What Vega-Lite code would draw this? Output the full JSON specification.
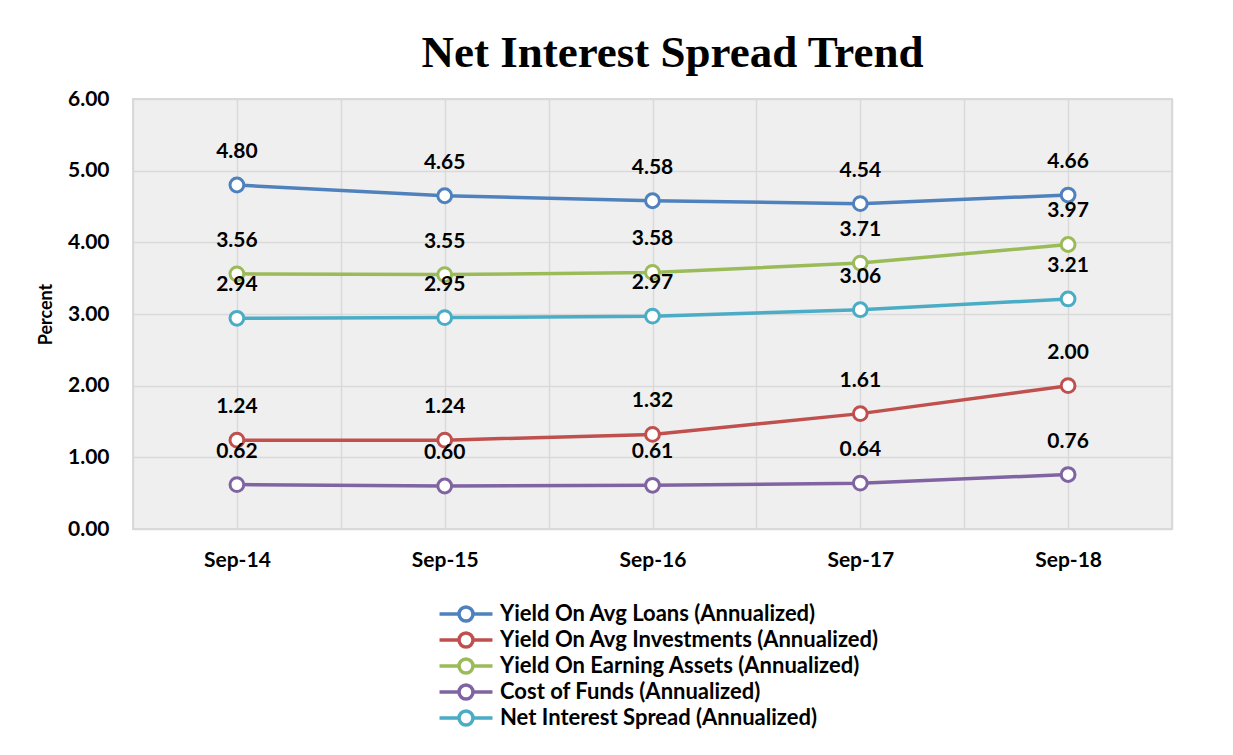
{
  "$schema": "https://vega.github.io/schema/vega-lite/v6.json",
  "width": 1039,
  "height": 430,
  "autosize": {"type": "none"},
  "padding": {"left": 133, "top": 99, "right": 61, "bottom": 226},
  "background": "white",
  "config": {
    "view": {"fill": "#efefef", "stroke": "#d9d9d9", "strokeWidth": 2},
    "font": "Lato",
    "legend": {
      "orient": "none",
      "legendX": 322,
      "legendY": 504,
      "direction": "vertical",
      "symbolType": "M-3.31,0H-0.875M0.875,0H3.31M-0.875,0A0.875,0.875,0,1,1,0.875,0A0.875,0.875,0,1,1,-0.875,0",
      "symbolSize": 256,
      "symbolStrokeWidth": 3.5,
      "symbolFillColor": "white",
      "labelFont": "Lato",
      "labelFontSize": 22,
      "labelFontWeight": "bold",
      "labelColor": "#000000",
      "labelOffset": 23,
      "rowPadding": -2,
      "labelLimit": 700
    }
  },
  "title": {
    "text": "Net Interest Spread Trend",
    "font": "Liberation Serif",
    "fontSize": 45,
    "fontWeight": "bold",
    "color": "#000000",
    "anchor": "middle",
    "dx": 20,
    "offset": 12
  },
  "data": {
    "values": [
      {"period": "Sep-14", "idx": 0, "series": "Yield On Avg Loans (Annualized)", "value": 4.80},
      {"period": "Sep-15", "idx": 1, "series": "Yield On Avg Loans (Annualized)", "value": 4.65},
      {"period": "Sep-16", "idx": 2, "series": "Yield On Avg Loans (Annualized)", "value": 4.58},
      {"period": "Sep-17", "idx": 3, "series": "Yield On Avg Loans (Annualized)", "value": 4.54},
      {"period": "Sep-18", "idx": 4, "series": "Yield On Avg Loans (Annualized)", "value": 4.66},
      {"period": "Sep-14", "idx": 0, "series": "Yield On Avg Investments (Annualized)", "value": 1.24},
      {"period": "Sep-15", "idx": 1, "series": "Yield On Avg Investments (Annualized)", "value": 1.24},
      {"period": "Sep-16", "idx": 2, "series": "Yield On Avg Investments (Annualized)", "value": 1.32},
      {"period": "Sep-17", "idx": 3, "series": "Yield On Avg Investments (Annualized)", "value": 1.61},
      {"period": "Sep-18", "idx": 4, "series": "Yield On Avg Investments (Annualized)", "value": 2.00},
      {"period": "Sep-14", "idx": 0, "series": "Yield On Earning Assets (Annualized)", "value": 3.56},
      {"period": "Sep-15", "idx": 1, "series": "Yield On Earning Assets (Annualized)", "value": 3.55},
      {"period": "Sep-16", "idx": 2, "series": "Yield On Earning Assets (Annualized)", "value": 3.58},
      {"period": "Sep-17", "idx": 3, "series": "Yield On Earning Assets (Annualized)", "value": 3.71},
      {"period": "Sep-18", "idx": 4, "series": "Yield On Earning Assets (Annualized)", "value": 3.97},
      {"period": "Sep-14", "idx": 0, "series": "Cost of Funds (Annualized)", "value": 0.62},
      {"period": "Sep-15", "idx": 1, "series": "Cost of Funds (Annualized)", "value": 0.60},
      {"period": "Sep-16", "idx": 2, "series": "Cost of Funds (Annualized)", "value": 0.61},
      {"period": "Sep-17", "idx": 3, "series": "Cost of Funds (Annualized)", "value": 0.64},
      {"period": "Sep-18", "idx": 4, "series": "Cost of Funds (Annualized)", "value": 0.76},
      {"period": "Sep-14", "idx": 0, "series": "Net Interest Spread (Annualized)", "value": 2.94},
      {"period": "Sep-15", "idx": 1, "series": "Net Interest Spread (Annualized)", "value": 2.95},
      {"period": "Sep-16", "idx": 2, "series": "Net Interest Spread (Annualized)", "value": 2.97},
      {"period": "Sep-17", "idx": 3, "series": "Net Interest Spread (Annualized)", "value": 3.06},
      {"period": "Sep-18", "idx": 4, "series": "Net Interest Spread (Annualized)", "value": 3.21}
    ]
  },
  "encoding": {
    "x": {
      "field": "idx",
      "type": "quantitative",
      "scale": {"domain": [-0.5, 4.5], "nice": false, "zero": false},
      "axis": {
        "title": null,
        "values": [-0.5, 0, 0.5, 1, 1.5, 2, 2.5, 3, 3.5, 4, 4.5],
        "labelExpr": "datum.value % 1 == 0 ? ['Sep-14','Sep-15','Sep-16','Sep-17','Sep-18'][datum.value] : ''",
        "labelOverlap": false,
        "labelFlush": false,
        "labelFont": "Lato",
        "labelFontSize": 21,
        "labelFontWeight": "bold",
        "labelColor": "#000000",
        "labelPadding": 20,
        "domain": false,
        "ticks": false,
        "grid": true,
        "gridColor": "#d9d9d9",
        "gridWidth": 1.5
      }
    },
    "y": {
      "field": "value",
      "type": "quantitative",
      "scale": {"domain": [0, 6], "nice": false},
      "axis": {
        "title": "Percent",
        "titleFont": "Lato",
        "titleFontSize": 18,
        "titleFontWeight": "bold",
        "titleColor": "#000000",
        "titlePadding": 12,
        "values": [0, 1, 2, 3, 4, 5, 6],
        "format": ".2f",
        "labelFont": "Lato",
        "labelFontSize": 21,
        "labelFontWeight": "bold",
        "labelColor": "#000000",
        "labelPadding": 24,
        "domain": false,
        "ticks": false,
        "grid": true,
        "gridColor": "#d9d9d9",
        "gridWidth": 1.5
      }
    },
    "color": {
      "field": "series",
      "type": "nominal",
      "scale": {
        "domain": [
          "Yield On Avg Loans (Annualized)",
          "Yield On Avg Investments (Annualized)",
          "Yield On Earning Assets (Annualized)",
          "Cost of Funds (Annualized)",
          "Net Interest Spread (Annualized)"
        ],
        "range": ["#4f81bd", "#c0504d", "#9bbb59", "#8064a2", "#4bacc6"]
      },
      "legend": {"title": null}
    }
  },
  "layer": [
    {"mark": {"type": "line", "strokeWidth": 3.5}},
    {
      "mark": {"type": "point", "filled": false, "fill": "white", "fillOpacity": 1, "opacity": 1, "strokeWidth": 3, "size": 190},
      "encoding": {"color": {"field": "series", "type": "nominal", "legend": null}}
    },
    {
      "mark": {"type": "text", "dy": -33, "font": "Lato", "fontSize": 21, "fontWeight": "bold", "color": "#000000"},
      "encoding": {
        "text": {"field": "value", "type": "quantitative", "format": ".2f"},
        "color": {"value": "#000000"}
      }
    }
  ]
}
